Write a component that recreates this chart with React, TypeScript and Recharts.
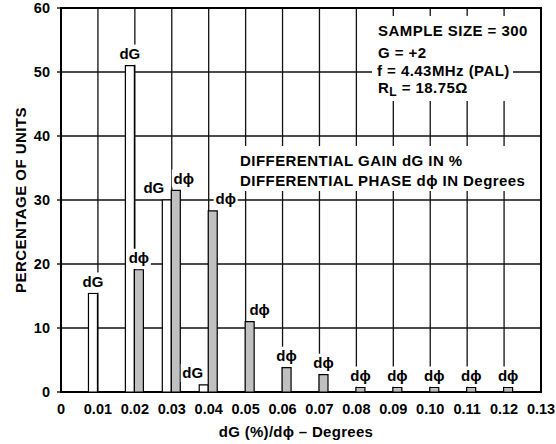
import React from "react";
import {
  BarChart, Bar, XAxis, YAxis, CartesianGrid, ReferenceArea, LabelList, Label,
} from "recharts";

const FONT = '"Liberation Sans", Arial, Helvetica, sans-serif';

// dG (%) / dphi (degrees) buckets
const steps = [0.01, 0.02, 0.03, 0.04, 0.05, 0.06, 0.07, 0.08, 0.09, 0.1, 0.11, 0.12];
const gainPct = [15.4, 51.0, 30.0, 1.1, null, null, null, null, null, null, null, null];
const phasePct = [null, 19.1, 31.5, 28.3, 11.0, 3.8, 2.7, 0.7, 0.7, 0.7, 0.7, 0.7];

const xTicks = [0, 0.01, 0.02, 0.03, 0.04, 0.05, 0.06, 0.07, 0.08, 0.09, 0.1, 0.11, 0.12, 0.13];
const yTicks = [0, 10, 20, 30, 40, 50, 60];

const rows = steps.map((s, i) => ({ step: s, dG: gainPct[i], dP: phasePct[i] }));

// side-shift for tags that would collide with the neighbour bar's tag
function tagShift(series: string, i: number) {
  if (series === "dG") return i === 2 ? -13 : i === 3 ? -11 : 0;
  return i === 1 ? 8 : i === 2 ? 13 : i === 3 ? 10 : 0;
}

function barTag(series: string, text: string) {
  return (props: any) => {
    const { value, index } = props;
    if (value == null) return null;
    const vb = props.viewBox ?? props;
    const x = vb.x ?? props.x;
    const y = vb.y ?? props.y;
    const width = vb.width ?? props.width;
    const dx = tagShift(series, index);
    const cx = x + width / 2 + dx;
    const cy = y - 12;
    const w = 24;
    const bottom = dx === 0 ? y - 0.8 : cy + 9;
    return (
      <g key={`${series}-${index}`}>
        <rect x={cx - w / 2} y={cy - 9} width={w} height={bottom - (cy - 9)} fill="#fff" />
        <text x={cx} y={cy} dy="0.36em" textAnchor="middle" fontSize={15}
          fontWeight="bold" fontFamily={FONT} fill="#000">{text}</text>
      </g>
    );
  };
}

const noteStyle: React.CSSProperties = {
  position: "absolute", zIndex: 3, fontSize: 15, fontWeight: "bold", lineHeight: "18px",
  letterSpacing: 0.45, whiteSpace: "nowrap", color: "#000", fontFamily: FONT,
};
const mask: React.CSSProperties = { position: "absolute", zIndex: 2, background: "#fff" };

export default function App() {
  return (
    <div style={{ position: "absolute", left: 0, top: 0, width: 556, height: 444, background: "#fff", fontFamily: FONT }}>
      <BarChart width={556} height={444} data={rows} barGap={0}
        margin={{ top: 8, right: 15, bottom: 22, left: 0 }}>
        <CartesianGrid stroke="#111" strokeWidth={1.3} />
        <XAxis dataKey="step" type="number" domain={[0, 0.13]} ticks={xTicks} height={30}
          axisLine={false} tickLine={false} tickSize={4} tickMargin={8} interval={0}
          tickFormatter={(v: number) => (v === 0 ? "0" : v.toFixed(2))}
          tick={{ fontSize: 14.5, fontWeight: "bold", fill: "#000", fontFamily: FONT }}>
          <Label value="dG (%)/dϕ – Degrees" position="bottom" offset={4} dx={-5}
            style={{ fontSize: 15, fontWeight: "bold", fill: "#000", fontFamily: FONT, letterSpacing: 0.3 }} />
        </XAxis>
        <YAxis type="number" domain={[0, 60]} ticks={yTicks} width={61} interval={0}
          axisLine={false} tickLine={{ stroke: "#000", strokeWidth: 1.3 }} tickSize={4} tickMargin={7}
          tick={{ fontSize: 14.5, fontWeight: "bold", fill: "#000", fontFamily: FONT }}>
          <Label value="PERCENTAGE OF UNITS" angle={-90} position="insideLeft" offset={18} dx={3}
            style={{ textAnchor: "middle", fontSize: 15, fontWeight: "bold", fill: "#000", fontFamily: FONT, letterSpacing: 0.45 }} />
        </YAxis>
        <ReferenceArea x1={0} x2={0.13} y1={0} y2={60} fill="none" stroke="#000" strokeWidth={2} />
        <Bar dataKey="dG" barSize={9} fill="#fff" stroke="#000" strokeWidth={1.2} isAnimationActive={false}>
          <LabelList dataKey="dG" content={barTag("dG", "dG")} />
        </Bar>
        <Bar dataKey="dP" barSize={9} fill="#c0c0c0" stroke="#000" strokeWidth={1.2} isAnimationActive={false}>
          <LabelList dataKey="dP" content={barTag("dP", "dϕ")} />
        </Bar>
      </BarChart>

      {/* test conditions */}
      <div style={{ ...mask, left: 370, top: 16, width: 165, height: 47 }} />
      <div style={{ ...mask, left: 372, top: 62, width: 141, height: 19 }} />
      <div style={{ ...mask, left: 370, top: 80, width: 165, height: 21 }} />
      <div style={{ ...noteStyle, left: 378, top: 22 }}>SAMPLE SIZE = 300</div>
      <div style={{ ...noteStyle, left: 378, top: 44 }}>G = +2</div>
      <div style={{ ...noteStyle, left: 377, top: 62 }}>f = 4.43MHz (PAL)</div>
      <div style={{ ...noteStyle, left: 378, top: 79 }}>
        R<span style={{ fontSize: 12, position: "relative", top: 3 }}>L</span> = 18.75Ω
      </div>

      {/* series note */}
      <div style={{ ...mask, left: 238, top: 146, width: 298, height: 45 }} />
      <div style={{ ...noteStyle, left: 240, top: 152 }}>DIFFERENTIAL GAIN dG IN %</div>
      <div style={{ ...noteStyle, left: 240, top: 172 }}>DIFFERENTIAL PHASE dϕ IN Degrees</div>
    </div>
  );
}
